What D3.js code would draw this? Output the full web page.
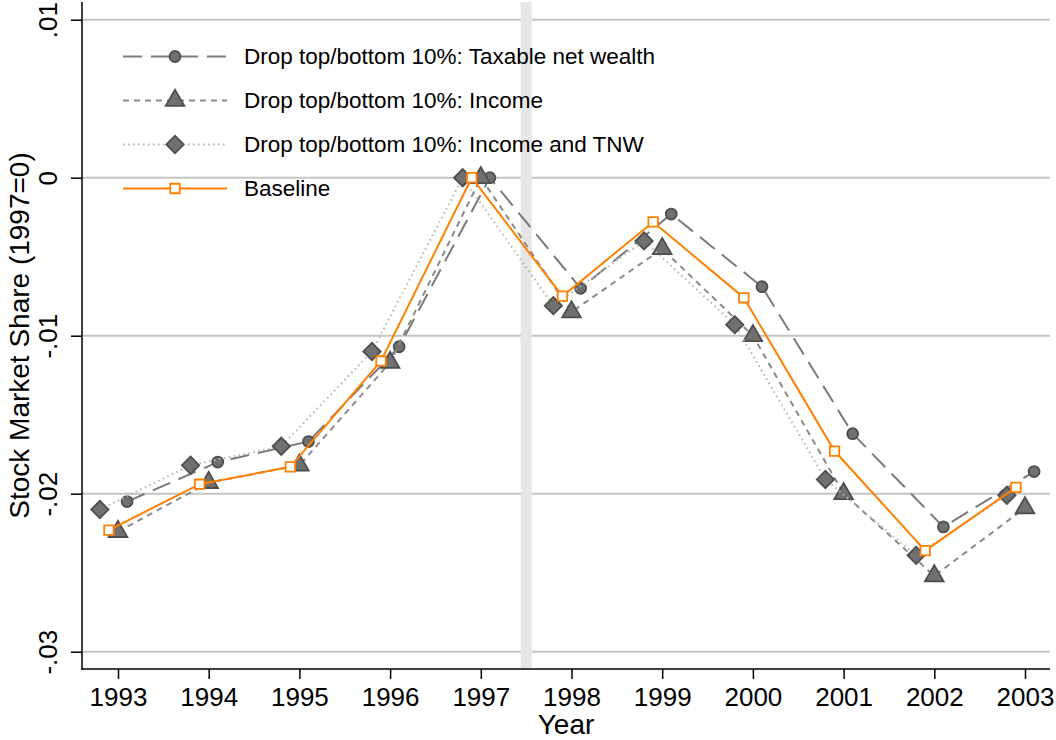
<!DOCTYPE html>
<html>
<head>
<meta charset="utf-8">
<script src="https://cdn.jsdelivr.net/npm/d3@7"></script>
<style>
  body { margin: 0; background: #fff; }
  svg text { font-family: "Liberation Sans", Arial, sans-serif; fill: #000; }
</style>
</head>
<body>
<div id="chart"></div>
<script>
// Stock market share relative to 1997, trimmed samples vs baseline

const years = [1993, 1994, 1995, 1996, 1997, 1998, 1999, 2000, 2001, 2002, 2003];
const yTicks = [0.01, 0, -0.01, -0.02, -0.03];
const yTickLabels = ['.01', '0', '-.01', '-.02', '-.03'];

const tnwValues = [-0.0205, -0.0180, -0.0167, -0.0107, 0, -0.0070, -0.0023, -0.0069, -0.0162, -0.0221, -0.0186];
const incomeValues = [-0.0224, -0.0193, -0.0182, -0.0117, 0, -0.0085, -0.0045, -0.0100, -0.0200, -0.0252, -0.0209];
const incomeTnwValues = [-0.0210, -0.0182, -0.0170, -0.0110, 0, -0.0081, -0.0040, -0.0093, -0.0191, -0.0239, -0.0201];
const baselineValues = [-0.0223, -0.0194, -0.0183, -0.0116, 0, -0.0075, -0.0028, -0.0076, -0.0173, -0.0236, -0.0196];

const seriesNames = [
  'Drop top/bottom 10%: Taxable net wealth',
  'Drop top/bottom 10%: Income',
  'Drop top/bottom 10%: Income and TNW',
  'Baseline'
];
// horizontal jitter (in years) used so markers don't overlap
const xOffsets = [0.1, 0, -0.2, -0.1];

const width = 1056, height = 740;
const plot = { left: 82, right: 1050, top: 2, bottom: 669 };

const svg = d3.select('#chart').append('svg')
  .attr('width', width)
  .attr('height', height);

const x = d3.scaleLinear().domain([1993, 2003]).range([118, 1025]);
const y = d3.scaleLinear().domain([-0.03, 0.01]).range([651.7, 19.7]);

// gridlines
svg.append('g')
  .selectAll('line')
  .data(yTicks)
  .enter()
  .append('line')
  .attr('x1', plot.left)
  .attr('x2', plot.right)
  .attr('y1', d => y(d))
  .attr('y2', d => y(d))
  .attr('stroke', '#c4c4c4')
  .attr('stroke-width', 2);

// shaded marker between 1997 and 1998
svg.append('rect')
  .attr('x', x(1997.5) - 5.5)
  .attr('y', plot.top)
  .attr('width', 11)
  .attr('height', plot.bottom - plot.top)
  .attr('fill', '#e6e6e6');

// axes
const yAxis = d3.axisLeft(y)
  .tickValues(yTicks)
  .tickFormat((d, i) => yTickLabels[i])
  .tickSize(11)
  .tickSizeOuter(0);

const yg = svg.append('g')
  .attr('transform', `translate(${plot.left},0)`)
  .call(yAxis);
yg.select('.domain').remove();
yg.selectAll('.tick line').attr('stroke', '#000').attr('stroke-width', 1.5);
yg.selectAll('.tick text')
  .attr('x', 0)
  .attr('dy', 0)
  .attr('font-size', 26)
  .attr('text-anchor', 'middle')
  .attr('transform', 'translate(-25,0) rotate(-90)');

const xAxis = d3.axisBottom(x)
  .tickValues(years)
  .tickFormat(d3.format('d'))
  .tickSize(10)
  .tickSizeOuter(0);

const xg = svg.append('g')
  .attr('transform', `translate(0,${plot.bottom})`)
  .call(xAxis);
xg.select('.domain').remove();
xg.selectAll('.tick line').attr('stroke', '#000').attr('stroke-width', 1.5);
xg.selectAll('.tick text')
  .attr('y', 37)
  .attr('dy', 0)
  .attr('font-size', 26);

svg.append('line')
  .attr('x1', plot.left).attr('x2', plot.left)
  .attr('y1', plot.top).attr('y2', plot.bottom + 0.75)
  .attr('stroke', '#000').attr('stroke-width', 1.5);
svg.append('line')
  .attr('x1', plot.left - 0.75).attr('x2', plot.right)
  .attr('y1', plot.bottom).attr('y2', plot.bottom)
  .attr('stroke', '#000').attr('stroke-width', 1.5);

// axis titles
svg.append('text')
  .attr('transform', `translate(29,${(plot.top + plot.bottom) / 2}) rotate(-90)`)
  .attr('text-anchor', 'middle')
  .attr('font-size', 28)
  .text('Stock Market Share (1997=0)');

svg.append('text')
  .attr('x', (plot.left + plot.right) / 2)
  .attr('y', 734)
  .attr('text-anchor', 'middle')
  .attr('font-size', 28)
  .text('Year');

// series styles
const markerFill = '#707070', markerStroke = '#4e4e4e';
const styles = [
  { color: '#7a7a7a', dash: '19,9', symbol: d3.symbolCircle, size: 95, fill: markerFill, stroke: markerStroke },
  { color: '#8a8a8a', dash: '6,5', symbol: d3.symbolTriangle, size: 150, fill: markerFill, stroke: markerStroke },
  { color: '#b4b4b4', dash: '1.5,3.5', symbol: d3.symbolSquare, size: 150, rotate: 45, fill: markerFill, stroke: markerStroke },
  { color: '#ff8000', dash: null, symbol: d3.symbolSquare, size: 90, fill: '#fff', stroke: '#ff8000' }
];

const seriesValues = [tnwValues, incomeValues, incomeTnwValues, baselineValues];
const series = seriesValues.map((vals, i) => ({
  name: seriesNames[i],
  style: styles[i],
  points: years.map((yr, j) => ({ x: yr + xOffsets[i], v: vals[j] }))
}));

const line = d3.line().x(d => x(d.x)).y(d => y(d.v));

const drawMarker = (sel, st) => {
  sel.append('path')
    .attr('d', d3.symbol().type(st.symbol).size(st.size)())
    .attr('transform', d => `translate(${d[0]},${d[1]})${st.rotate ? ` rotate(${st.rotate})` : ''}`)
    .attr('fill', st.fill)
    .attr('stroke', st.stroke)
    .attr('stroke-width', 1.8);
};

series.forEach(s => {
  const g = svg.append('g');
  g.append('path')
    .datum(s.points)
    .attr('d', line)
    .attr('fill', 'none')
    .attr('stroke', s.style.color)
    .attr('stroke-width', 2)
    .attr('stroke-dasharray', s.style.dash);
  const m = g.selectAll('g')
    .data(s.points.map(p => [x(p.x), y(p.v)]))
    .enter()
    .append('g');
  drawMarker(m, s.style);
});

// legend
const legend = svg.append('g');
series.forEach((s, i) => {
  const cy = 56.5 + i * 44;
  const row = legend.append('g');
  row.append('line')
    .attr('x1', 123).attr('x2', 227)
    .attr('y1', cy).attr('y2', cy)
    .attr('stroke', s.style.color)
    .attr('stroke-width', 2)
    .attr('stroke-dasharray', s.style.dash);
  const m = row.selectAll('g').data([[175, cy]]).enter().append('g');
  drawMarker(m, s.style);
  row.append('text')
    .attr('x', 244)
    .attr('y', cy + 7.5)
    .attr('font-size', 22.5)
    .text(s.name);
});
</script>
</body>
</html>
